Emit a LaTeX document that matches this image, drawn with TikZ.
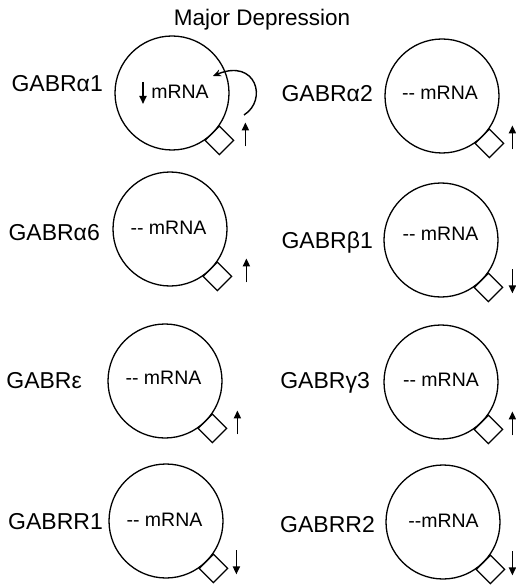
\documentclass[tikz,border=0pt]{standalone}
\usepackage{fontspec}
\setmainfont{Liberation Sans}
\usetikzlibrary{arrows.meta,calc,shapes.geometric}
\newcommand\recep[5]{%
  \node[cell] (c#1) at (#2,#3) {};
  \node[site] (d#1) at ($(c#1)+(47.4,47.4)$) {};
  \coordinate (t#1) at ($(d#1)+(#5,-18)$);
  \coordinate (b#1) at ($(d#1)+(#5,6)$);
  \ifx#4u\draw[tip] (b#1) -- (t#1);\else\draw[tip] (t#1) -- (b#1);\fi
}
\begin{document}
\begin{tikzpicture}[x=1pt,y=-1pt,
  cell/.style={circle,draw,line width=1.3pt,minimum size=114pt,inner sep=0pt},
  site/.style={diamond,draw,line width=1.3pt,minimum width=29pt,minimum height=29pt,inner sep=0pt},
  tip/.style={line width=1.7pt,-{Triangle[length=8pt,width=7pt]}},
  lab/.style={font=\fontsize{23}{27}\selectfont,anchor=base east,inner sep=0pt},
  rna/.style={font=\fontsize{19.5}{23}\selectfont,anchor=base,inner sep=0pt}]
\useasboundingbox (0,0) rectangle (515,585);
\node[font=\fontsize{22.5}{26}\selectfont,anchor=base,inner sep=0pt] (title) at (262,26) {Major Depression};

\recep{1}{172}{93}{u}{26}
\recep{2}{442}{96}{u}{23}
\recep{3}{170}{229}{u}{29}
\recep{4}{441}{240}{d}{24}
\recep{5}{165}{381}{u}{25}
\recep{6}{441}{382}{u}{24}
\recep{7}{166}{521}{d}{23}
\recep{8}{443}{522}{d}{22}

\node[lab] (l1) at (103,92) {GABRα1};
\node[lab] (l2) at (373,102) {GABRα2};
\node[lab] (l3) at (100,240) {GABRα6};
\node[lab] (l4) at (373,248) {GABRβ1};
\node[lab] (l5) at (82,388) {GABRε};
\node[lab] (l6) at (370,388) {GABRγ3};
\node[lab] (l7) at (103,529) {GABRR1};
\node[lab] (l8) at (375,532) {GABRR2};

\node[rna] (m1) at (180,99) {mRNA};
\coordinate (ma) at (143,82);
\coordinate (mb) at (143,104);
\draw[tip] (ma) -- (mb);
\node[rna] (m2) at (440,100) {-\kern0pt- mRNA};
\node[rna] (m3) at (168.5,234) {-\kern0pt- mRNA};
\node[rna] (m4) at (440.5,240) {-\kern0pt- mRNA};
\node[rna] (m5) at (163.5,384) {-\kern0pt- mRNA};
\node[rna] (m6) at (441,386) {-\kern0pt- mRNA};
\node[rna] (m7) at (164.5,526) {-\kern0pt- mRNA};
\node[rna] (m8) at (443.5,527) {-\kern0pt-mRNA};

\coordinate (fs) at (244,115);
\coordinate (fe) at (213,76);
\draw[line width=1.4pt,-{Stealth[length=8pt,width=7pt]}] (fs) .. controls (268,100) and (256,58) .. (fe);
\end{tikzpicture}
\end{document}
